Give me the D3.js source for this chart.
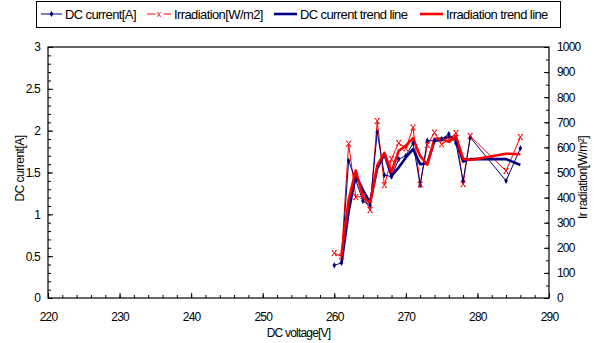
<!DOCTYPE html>
<html>
<head>
<meta charset="utf-8">
<script src="https://cdn.jsdelivr.net/npm/d3@7/dist/d3.min.js"></script>
<style>
  body { margin: 0; background: #fff; }
  svg { display: block; font-family: "Liberation Sans", Arial, sans-serif; }
</style>
</head>
<body>
<div id="chart"></div>
<script>
const voltage     = [260, 261, 262, 263, 264, 265, 266, 267, 268, 269, 270, 271, 272, 273, 274, 275, 276, 277, 278, 279, 284, 286];
const current     = [0.39, 0.42, 1.64, 1.41, 1.16, 1.11, 1.98, 1.47, 1.45, 1.66, 1.70, 1.85, 1.35, 1.88, 1.88, 1.90, 1.96, 1.85, 1.40, 1.92, 1.40, 1.79];
const irradiation = [179, 165, 615, 402, 406, 351, 705, 450, 554, 618, 596, 679, 452, 610, 659, 612, 632, 657, 454, 645, 506, 641];

// trend lines (as drawn)
const trendVoltage     = [261, 262, 263, 264, 265, 266, 267, 268, 269, 270, 271, 272, 273, 274, 275, 276, 277, 278, 279, 284, 286];
const currentTrend     = [0.41, 1.03, 1.47, 1.29, 1.14, 1.55, 1.72, 1.46, 1.56, 1.68, 1.78, 1.60, 1.61, 1.88, 1.89, 1.93, 1.90, 1.63, 1.66, 1.66, 1.59];
const irradiationTrend = [172, 390, 508, 404, 378, 528, 578, 502, 586, 607, 637, 566, 531, 634, 635, 622, 644, 555, 550, 575, 573];

const xTicks = [220, 230, 240, 250, 260, 270, 280, 290];
const leftTicks = [0, 0.5, 1, 1.5, 2, 2.5, 3];
const rightTicks = [0, 100, 200, 300, 400, 500, 600, 700, 800, 900, 1000];

const legendItems = [
  {label: "DC current[A]", kind: "current"},
  {label: "Irradiation[W/m2]", kind: "irr"},
  {label: "DC current trend line", kind: "currentTrend"},
  {label: "Irradiation trend line", kind: "irrTrend"}
];

const W = 597, H = 343;
const plot = {left: 48, right: 549, top: 47, bottom: 298};
const BLUE = "#000080", RED = "#ff0000";

const svg = d3.select("#chart").append("svg")
  .attr("width", W).attr("height", H);

const x = d3.scaleLinear().domain([220, 290]).range([plot.left, plot.right]);
const yL = d3.scaleLinear().domain([0, 3]).range([plot.bottom, plot.top]);
const yR = d3.scaleLinear().domain([0, 1000]).range([plot.bottom, plot.top]);

const tickFont = g => g.selectAll("text")
  .attr("font-size", 12).attr("letter-spacing", "-0.8px").attr("fill", "#000");

// minor ticks
svg.append("g").attr("transform", `translate(0,${plot.bottom})`)
  .call(d3.axisBottom(x).tickValues(d3.range(220, 291, 2)).tickSize(-3).tickFormat(""))
  .call(g => g.select(".domain").remove());
svg.append("g").attr("transform", `translate(${plot.left},0)`)
  .call(d3.axisLeft(yL).tickValues(d3.range(0, 31).map(d => d / 10)).tickSize(-3).tickFormat(""))
  .call(g => g.select(".domain").remove());
svg.append("g").attr("transform", `translate(${plot.right},0)`)
  .call(d3.axisRight(yR).tickValues(d3.range(0, 1001, 50)).tickSize(-3).tickFormat(""))
  .call(g => g.select(".domain").remove());

// major ticks + labels
svg.append("g").attr("transform", `translate(0,${plot.bottom})`)
  .call(d3.axisBottom(x).tickValues(xTicks).tickSize(-5).tickPadding(14).tickFormat(d3.format("d")))
  .call(g => g.select(".domain").remove())
  .call(tickFont);
svg.append("g").attr("transform", `translate(${plot.left},0)`)
  .call(d3.axisLeft(yL).tickValues(leftTicks).tickSize(-5).tickPadding(8).tickFormat(d => String(d)))
  .call(g => g.select(".domain").remove())
  .call(tickFont);
svg.append("g").attr("transform", `translate(${plot.right},0)`)
  .call(d3.axisRight(yR).tickValues(rightTicks).tickSize(-5).tickPadding(8).tickFormat(d3.format("d")))
  .call(g => g.select(".domain").remove())
  .call(tickFont);

// frame
svg.append("rect")
  .attr("x", plot.left).attr("y", plot.top)
  .attr("width", plot.right - plot.left).attr("height", plot.bottom - plot.top)
  .attr("fill", "none").attr("stroke", "#000").attr("stroke-width", 1.2);

// axis titles
svg.append("text")
  .attr("transform", `translate(24,${(plot.top + plot.bottom) / 2 - 4}) rotate(-90)`)
  .attr("text-anchor", "middle").attr("font-size", 12).attr("letter-spacing", "-0.5px")
  .text("DC current[A]");
svg.append("text")
  .attr("transform", `translate(587,${(plot.top + plot.bottom) / 2 + 5}) rotate(-90)`)
  .attr("text-anchor", "middle").attr("font-size", 12).attr("letter-spacing", "-0.5px")
  .text("Ir radiation[W/m²]");
svg.append("text")
  .attr("x", (plot.left + plot.right) / 2).attr("y", 337)
  .attr("text-anchor", "middle").attr("font-size", 12).attr("letter-spacing", "-0.8px")
  .text("DC voltage[V]");

const curData = voltage.map((v, i) => ({v, val: current[i]}));
const irrData = voltage.map((v, i) => ({v, val: irradiation[i]}));
const curTrendData = trendVoltage.map((v, i) => ({v, val: currentTrend[i]}));
const irrTrendData = trendVoltage.map((v, i) => ({v, val: irradiationTrend[i]}));

const lineL = d3.line().x(d => x(d.v)).y(d => yL(d.val));
const lineR = d3.line().x(d => x(d.v)).y(d => yR(d.val));

const xMark = "M-2,-2.5L2,2.5M-2,2.5L2,-2.5M-2.5,-2.5H-1M1,-2.5H2.5M-2.5,2.5H-1M1,2.5H2.5";
const diamond = d3.symbol().type(d3.symbolDiamond).size(11)();

// thin data lines
svg.append("path").datum(irrData).attr("d", lineR)
  .attr("fill", "none").attr("stroke", RED).attr("stroke-width", 1);
svg.append("path").datum(curData).attr("d", lineL)
  .attr("fill", "none").attr("stroke", BLUE).attr("stroke-width", 1);

// trend lines
svg.append("path").datum(curTrendData).attr("d", lineL)
  .attr("fill", "none").attr("stroke", BLUE).attr("stroke-width", 2.6)
  .attr("stroke-linejoin", "round");
svg.append("path").datum(irrTrendData).attr("d", lineR)
  .attr("fill", "none").attr("stroke", RED).attr("stroke-width", 2.6)
  .attr("stroke-linejoin", "round");

// markers
svg.append("g").selectAll("path").data(curData).join("path")
  .attr("transform", d => `translate(${x(d.v)},${yL(d.val)})`)
  .attr("d", diamond).attr("fill", BLUE);
svg.append("g").selectAll("path").data(irrData).join("path")
  .attr("transform", d => `translate(${x(d.v)},${yR(d.val)})`)
  .attr("d", xMark).attr("fill", "none").attr("stroke", RED).attr("stroke-width", 1);

// legend
const legend = svg.append("g");
legend.append("rect")
  .attr("x", 36.5).attr("y", 1.5).attr("width", 524).attr("height", 26)
  .attr("fill", "#fff").attr("stroke", "#000").attr("stroke-width", 1);

const legendX = [41, 147, 274, 420];
const sampleW = [21, 24, 23, 23];
legendItems.forEach((it, i) => {
  const g = legend.append("g").attr("transform", `translate(${legendX[i]},14)`);
  const w = sampleW[i];
  if (it.kind === "current") {
    g.append("line").attr("x1", 0).attr("x2", w).attr("stroke", BLUE).attr("stroke-width", 1);
    g.append("path").attr("transform", `translate(${w / 2},0)`).attr("d", diamond).attr("fill", BLUE);
  } else if (it.kind === "irr") {
    g.append("line").attr("x1", 0).attr("x2", w * 0.35).attr("stroke", RED).attr("stroke-width", 1);
    g.append("line").attr("x1", w * 0.7).attr("x2", w).attr("stroke", RED).attr("stroke-width", 1);
    g.append("text").attr("x", w / 2).attr("y", 3).attr("text-anchor", "middle")
      .attr("font-size", 9).attr("fill", RED).text("x");
  } else {
    g.append("line").attr("x1", 0).attr("x2", w)
      .attr("stroke", it.kind === "currentTrend" ? BLUE : RED).attr("stroke-width", 2.6);
  }
  g.append("text").attr("x", w + 3).attr("y", 5)
    .attr("font-size", 13).attr("letter-spacing", "-0.6px").text(it.label);
});
</script>
</body>
</html>
